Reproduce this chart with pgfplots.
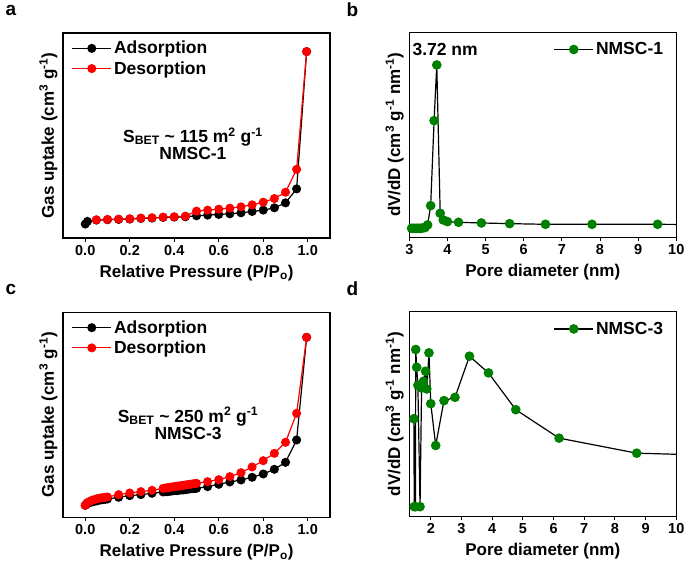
\documentclass[border=0pt]{standalone}
\usepackage{fontspec}
\setmainfont{Liberation Sans}
\usepackage{pgfplots}
\pgfplotsset{compat=1.18}
\definecolor{mygreen}{RGB}{0,128,0}
\newcommand\tkf{\fontsize{14.5}{16}\selectfont\bfseries}
\newcommand\lbf{\fontsize{17}{19}\selectfont\bfseries}
\newcommand\lgf{\fontsize{17.5}{19}\selectfont\bfseries}
\newcommand\anf{\fontsize{17.5}{19}\selectfont\bfseries}
\newcommand\pf{\fontsize{19}{21}\selectfont\bfseries}
\pgfplotsset{
  panel/.style={
    scale only axis, width=267pt, height=205pt,
    axis line style={line width=1.2pt},
    ytick=\empty,
    xtick pos=bottom,
    tick align=outside,
    major tick length=3.5pt,
    every tick/.style={line width=1pt, black},
    tick label style={font=\tkf},
    /pgf/number format/assume math mode=true,
    label style={font=\lbf},
    ylabel style={at={(axis description cs:-0.055,0.5)}, anchor=center},
    xlabel style={at={(axis description cs:0.5,-0.17)}, anchor=center},
    legend style={draw=none, fill=none, font=\lgf, row sep=2pt,
      legend cell align=left},
    legend image code/.code={
      \draw[mark repeat=2,mark phase=2] plot coordinates {(0cm,0cm) (0.69cm,0cm) (1.38cm,0cm)};},
  },
  iso/.style={panel, xmin=-0.1, xmax=1.1,
    xtick={0,0.2,0.4,0.6,0.8,1.0},
    xticklabel style={/pgf/number format/.cd, fixed, fixed zerofill, precision=1},
    xlabel={Relative Pressure (P/P\textsubscript{o})},
    ylabel={Gas uptake (cm\textsuperscript{3} g\textsuperscript{-1})},
    legend style={at={(axis description cs:0.02,0.98)}, anchor=north west},
  },
  pore/.style={panel, xmax=10, xtick={2,3,4,5,6,7,8,9,10},
    xlabel={Pore diameter (nm)},
    ylabel={dV/dD (cm\textsuperscript{3} g\textsuperscript{-1} nm\textsuperscript{-1})},
    legend style={at={(axis description cs:0.97,0.97)}, anchor=north east},
  },
  ads/.style={black, line width=1.2pt, mark=*, mark size=3.9pt},
  des/.style={red, line width=1.2pt, mark=*, mark size=3.9pt, mark options={fill=red, draw=red}},
  grn/.style={black, line width=1.2pt, mark=*, mark size=4.2pt, mark options={fill=mygreen, draw=mygreen}},
}
\begin{document}
\begin{tikzpicture}
\useasboundingbox (0,0) rectangle (685pt,-562pt);
% panel letters
\node[font=\pf, anchor=west] at (2pt,-10pt) {a};
\node[font=\pf, anchor=west] at (343pt,-10pt) {b};
\node[font=\pf, anchor=west] at (2pt,-289pt) {c};
\node[font=\pf, anchor=west] at (343pt,-289pt) {d};

% ---- a ----
\begin{axis}[iso, at={(63pt,-238pt)}, anchor=south west, ymin=0, ymax=618]
\addplot[ads] coordinates {(0,42) (0.01,50) (0.05,54) (0.1,55) (0.15,56) (0.2,57) (0.25,59) (0.3,60) (0.35,62) (0.4,63) (0.45,64) (0.5,67) (0.55,69) (0.6,71) (0.65,73) (0.7,76) (0.75,80) (0.8,84) (0.85,91) (0.9,106) (0.95,148) (0.995,562)};
\addlegendentry{Adsorption}
\addplot[des] coordinates {(0.05,55) (0.1,56) (0.15,57) (0.2,58) (0.25,60) (0.3,61) (0.35,63) (0.4,64) (0.45,66) (0.5,81) (0.55,84) (0.6,87) (0.65,90) (0.7,94) (0.75,100) (0.8,108) (0.85,119) (0.9,138) (0.95,207) (0.995,562)};
\addlegendentry{Desorption}
\node[font=\anf] at (axis cs:0.484,305) {S\textsubscript{BET} \textasciitilde\ 115 m\textsuperscript{2} g\textsuperscript{-1}};
\node[font=\anf] at (axis cs:0.484,255) {NMSC-1};
\end{axis}

% ---- b ----
\begin{axis}[pore, at={(409.3pt,-237.3pt)}, anchor=south west, xmin=3, ymin=0, ymax=615]
\addplot[grn] coordinates {(3.06,27) (3.10,27) (3.15,27) (3.20,27) (3.25,27) (3.30,27) (3.35,28) (3.41,29) (3.48,37) (3.56,95) (3.65,350) (3.72,517) (3.81,72) (3.89,52) (4.0,47) (4.29,45) (4.89,43) (5.63,41) (6.57,39) (7.79,39) (9.51,39) (11,38)};
\addlegendentry{NMSC-1}
\node[font=\anf] at (axis cs:3.94,562) {3.72 nm};
\end{axis}

% ---- c ----
\begin{axis}[iso, at={(63pt,-517.3pt)}, anchor=south west, ymin=0, ymax=615]
\addplot[ads] coordinates {(0,36) (0.005,39) (0.01,41) (0.02,44) (0.03,46) (0.04,48) (0.05,49) (0.06,51) (0.07,52) (0.08,53) (0.09,54) (0.1,55) (0.15,60) (0.2,65) (0.25,68) (0.3,72) (0.35,76) (0.36,77) (0.37,77) (0.38,78) (0.39,79) (0.4,80) (0.41,80) (0.42,81) (0.43,82) (0.44,82) (0.45,83) (0.46,84) (0.47,85) (0.48,86) (0.49,86) (0.5,87) (0.55,92) (0.6,99) (0.65,106) (0.7,112) (0.75,120) (0.8,130) (0.85,144) (0.9,165) (0.95,232) (0.995,540)};
\addlegendentry{Adsorption}
\addplot[des] coordinates {(0,36) (0.005,40) (0.01,44) (0.02,48) (0.03,51) (0.04,53) (0.05,55) (0.06,57) (0.07,58) (0.08,59) (0.09,60) (0.1,61) (0.15,68) (0.2,73) (0.25,77) (0.3,81) (0.35,87) (0.36,88) (0.37,89) (0.38,90) (0.39,91) (0.4,92) (0.41,93) (0.42,94) (0.43,95) (0.44,96) (0.45,97) (0.46,98) (0.47,99) (0.48,100) (0.49,101) (0.5,102) (0.55,107) (0.6,113) (0.65,122) (0.7,134) (0.75,151) (0.8,170) (0.85,192) (0.9,225) (0.95,312) (0.995,540)};
\addlegendentry{Desorption}
\node[font=\anf] at (axis cs:0.462,302) {S\textsubscript{BET} \textasciitilde\ 250 m\textsuperscript{2} g\textsuperscript{-1}};
\node[font=\anf] at (axis cs:0.462,250) {NMSC-3};
\end{axis}

% ---- d ----
\begin{axis}[pore, at={(409.3pt,-516.7pt)}, anchor=south west, xmin=1.3, ymin=0, ymax=613]
\addplot[grn] coordinates {(1.45,293) (1.46,30) (1.50,30) (1.51,500) (1.54,447) (1.58,393) (1.65,30) (1.70,385) (1.76,405) (1.83,435) (1.87,382) (1.94,490) (2.0,338) (2.16,213) (2.43,347) (2.79,357) (3.26,480) (3.88,430) (4.77,320) (6.18,235) (8.71,190) (11,184)};
\addlegendentry{NMSC-3}
\end{axis}
\end{tikzpicture}
\end{document}
